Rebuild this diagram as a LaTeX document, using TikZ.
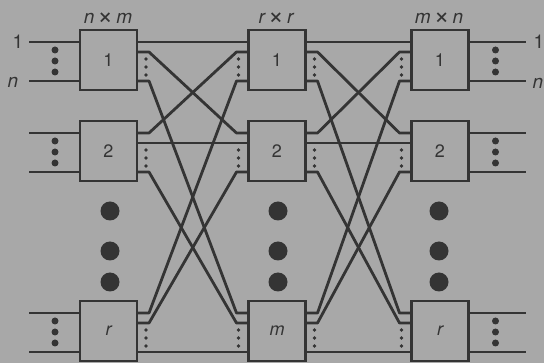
\documentclass[tikz,border=0pt]{standalone}
\usepackage{fontspec}
\setmainfont{TeX Gyre Heros}
\usetikzlibrary{calc}
\definecolor{bg}{RGB}{168,168,168}
\definecolor{ink}{RGB}{52,52,52}
\newcommand\bigtimes{\raisebox{-1.2pt}{\fontsize{27}{27}\selectfont ×}}
\tikzset{
  swbox/.style={draw=ink, line width=2.5pt, fill=bg, rectangle, minimum width=57pt, minimum height=60pt, inner sep=0pt, outer sep=0pt, text=ink, font=\fontsize{18}{18}\selectfont},
  wire/.style={draw=ink, line width=2.8pt, line join=round, line cap=butt},
  lab/.style={text=ink, inner sep=0pt, font=\fontsize{19}{19}\selectfont},
}
\begin{document}
\begin{tikzpicture}[x=1pt,y=-1pt]
\fill[bg] (0,0) rectangle (544,363);
\useasboundingbox (0,0) rectangle (544,363);

% switch boxes
\node[swbox] (A1) at (108.5,60) {1};
\node[swbox] (A2) at (108.5,151) {2};
\node[swbox] (Ar) at (108.5,331) {\itshape r};
\node[swbox] (B1) at (277,60) {1};
\node[swbox] (B2) at (277,151) {2};
\node[swbox] (Bm) at (277,331) {\itshape m};
\node[swbox] (C1) at (440,60) {1};
\node[swbox] (C2) at (440,151) {2};
\node[swbox] (Cr) at (440,331) {\itshape r};

% ports and bend points
\foreach \b in {A1,A2,Ar,B1,B2,Bm,C1,C2,Cr}{
  \foreach \k/\dy in {1/12,2/22,3/51}{
    \coordinate (\b-o\k) at ($(\b.north east)+(0,\dy)$);
    \coordinate (\b-ob\k) at ($(\b.north east)+(12,\dy)$);
    \coordinate (\b-i\k) at ($(\b.north west)+(0,\dy)$);
    \coordinate (\b-ib\k) at ($(\b.north west)+(-12,\dy)$);
  }
}

% first stage -> middle stage
\draw[wire] (A1-o1) -- (B1-i1);
\draw[wire] (A1-o2) -- (A1-ob2) -- (B2-ib1) -- (B2-i1);
\draw[wire] (A1-o3) -- (A1-ob3) -- (Bm-ib1) -- (Bm-i1);
\draw[wire] (A2-o1) -- (A2-ob1) -- (B1-ib2) -- (B1-i2);
\draw[wire] (A2-o2) -- (B2-i2);
\draw[wire] (A2-o3) -- (A2-ob3) -- (Bm-ib2) -- (Bm-i2);
\draw[wire] (Ar-o1) -- (Ar-ob1) -- (B1-ib3) -- (B1-i3);
\draw[wire] (Ar-o2) -- (Ar-ob2) -- (B2-ib3) -- (B2-i3);
\draw[wire] (Ar-o3) -- (Bm-i3);

% middle stage -> last stage
\draw[wire] (B1-o1) -- (C1-i1);
\draw[wire] (B1-o2) -- (B1-ob2) -- (C2-ib1) -- (C2-i1);
\draw[wire] (B1-o3) -- (B1-ob3) -- (Cr-ib1) -- (Cr-i1);
\draw[wire] (B2-o1) -- (B2-ob1) -- (C1-ib2) -- (C1-i2);
\draw[wire] (B2-o2) -- (C2-i2);
\draw[wire] (B2-o3) -- (B2-ob3) -- (Cr-ib2) -- (Cr-i2);
\draw[wire] (Bm-o1) -- (Bm-ob1) -- (C1-ib3) -- (C1-i3);
\draw[wire] (Bm-o2) -- (Bm-ob2) -- (C2-ib3) -- (C2-i3);
\draw[wire] (Bm-o3) -- (Cr-i3);

% inputs
\foreach \b in {A1,A2,Ar}{
  \coordinate (\b-in1) at ($(\b-i1)+(-51,0)$);
  \coordinate (\b-in3) at ($(\b-i3)+(-51,0)$);
  \draw[wire] (\b-in1) -- (\b-i1);
  \draw[wire] (\b-in3) -- (\b-i3);
  \foreach \dy in {20,31,42} \fill[ink] ($(\b.north west)+(-25,\dy)$) circle (3.5);
}
% outputs
\foreach \b in {C1,C2,Cr}{
  \coordinate (\b-out1) at ($(\b-o1)+(57,0)$);
  \coordinate (\b-out3) at ($(\b-o3)+(57,0)$);
  \draw[wire] (\b-o1) -- (\b-out1);
  \draw[wire] (\b-o3) -- (\b-out3);
  \foreach \dy in {20,31,42} \fill[ink] ($(\b.north east)+(27,\dy)$) circle (3.5);
}

% small dots between internal ports
\foreach \b in {A1,A2,Ar,B1,B2,Bm}{
  \foreach \dy in {29,37,45} \fill[ink] ($(\b.north east)+(9,\dy)$) circle (1.8);
}
\foreach \b in {B1,B2,Bm,C1,C2,Cr}{
  \foreach \dy in {29,37,45} \fill[ink] ($(\b.north west)+(-10,\dy)$) circle (1.8);
}

% big dots between rows
\foreach \x in {110,278,439}{
  \foreach \y in {211,251,282} \fill[ink] (\x,\y) circle (9.5);
}

% labels
\node[lab] (inl1) at (18,42) {1};
\node[lab] (inln) at (13,82) {\itshape n};
\node[lab] (outl1) at (539,42) {1};
\node[lab] (outln) at (538,83) {\itshape n};
\node[lab] (tA) at (108,19) {{\itshape n}\,\bigtimes\,{\itshape m}};
\node[lab] (tB) at (276,19) {{\itshape r}\,\bigtimes\,{\itshape r}};
\node[lab] (tC) at (439,19) {{\itshape m}\,\bigtimes\,{\itshape n}};
\end{tikzpicture}
\end{document}
